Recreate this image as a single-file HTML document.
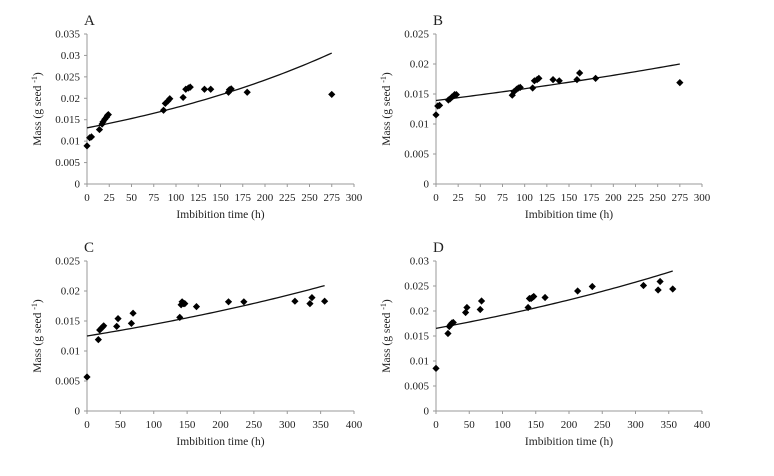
<!DOCTYPE html>
<html><head><meta charset="utf-8"><style>
html,body{margin:0;padding:0;background:#fff;}
svg{display:block;}
svg text, svg tspan{font-family:"Liberation Serif","Times New Roman",serif;}
</style></head><body>
<svg id="chart" width="774" height="476" viewBox="0 0 774 476" xmlns="http://www.w3.org/2000/svg"></svg>
<script>
// Panel A
const tA = [0,3,5,14,17,18,20,22,23,24,86,88,91,93,108,111,114,116,132,139,159,160,162,180,275];
const mA = [0.0089,0.0108,0.011,0.0127,0.014,0.0145,0.0151,0.0156,0.016,0.0162,0.0172,0.0188,0.0194,0.0199,0.0202,0.0221,0.0224,0.0226,0.0221,0.0221,0.0214,0.022,0.0222,0.0214,0.0209];
const fitA = [0.0131,0.00308,275];
const xticksA = [0,25,50,75,100,125,150,175,200,225,250,275,300];
const yticksA = [0,0.005,0.01,0.015,0.02,0.025,0.03,0.035];
// Panel B
const tB = [0,2,4,14,16,18,20,21,23,86,88,91,93,95,109,111,114,116,132,139,159,162,180,275];
const mB = [0.01153,0.013,0.0131,0.014,0.0142,0.0145,0.0147,0.0149,0.0149,0.0148,0.0154,0.0158,0.016,0.0161,0.016,0.0172,0.0174,0.0176,0.0174,0.0172,0.0174,0.0185,0.0176,0.0169];
const fitB = [0.01392,0.001318,275];
const xticksB = [0,25,50,75,100,125,150,175,200,225,250,275,300];
const yticksB = [0,0.005,0.01,0.015,0.02,0.025];
// Panel C
const tC = [0,17,19,21.5,23.5,25,44.5,46.5,66.5,69,139,141,142.5,144.5,146.5,164,212,235,311.5,334,337,356];
const mC = [0.00567,0.0119,0.0135,0.0138,0.014,0.0142,0.0141,0.0154,0.0146,0.0163,0.0156,0.0177,0.0182,0.0179,0.0179,0.0174,0.0182,0.0182,0.0183,0.0179,0.0189,0.0183];
const fitC = [0.0125,0.001444,356];
const xticksC = [0,50,100,150,200,250,300,350,400];
const yticksC = [0,0.005,0.01,0.015,0.02,0.025];
// Panel D
const tD = [0,18,20,22,24,26,44.5,46.5,66.5,68.5,138.5,140.5,143,145,147,164,213,235,312,334,337,356];
const mD = [0.00853,0.0155,0.0169,0.0173,0.0176,0.0177,0.0197,0.0207,0.0203,0.022,0.0207,0.0225,0.0225,0.0227,0.0229,0.0227,0.024,0.0249,0.0251,0.0242,0.0259,0.0244];
const fitD = [0.01653,0.00148,356];
const xticksD = [0,50,100,150,200,250,300,350,400];
const yticksD = [0,0.005,0.01,0.015,0.02,0.025,0.03];

const NS = "http://www.w3.org/2000/svg";
const FF = "Liberation Serif, Times New Roman, serif";
const svg = document.getElementById('chart');
function mk(tag, attrs, parent){const e=document.createElementNS(NS,tag);for(const k in attrs)e.setAttribute(k,attrs[k]);if(tag==='text')e.setAttribute('font-family',FF);(parent||svg).appendChild(e);return e;}
function fmt(v){return v===0?"0":String(+v.toFixed(3));}

function panel(id, label, ox, oy0, oy1, xw, ts, ms, fit, xticks, yticks){
  const g = mk('g',{});
  
  
  const xmax = xticks[xticks.length-1], ymax = yticks[yticks.length-1];
  const X = v => ox + v/xmax*xw;
  const Y = v => oy0 - v/ymax*(oy0-oy1);
  const lab = mk('text',{x:ox-3,y:oy1-9,'font-size':15,fill:'#222'},g); lab.textContent=label;
  
  
  const ya = mk('line',{x1:ox,y1:oy0,x2:ox,y2:oy1,stroke:'#999','stroke-width':1},g);
  
  
  const xa = mk('line',{x1:ox,y1:oy0,x2:ox+xw,y2:oy0,stroke:'#999','stroke-width':1},g);
  
  
  yticks.forEach(v=>{
    mk('line',{x1:ox-3,y1:Y(v),x2:ox,y2:Y(v),stroke:'#999'},g);
    const t = mk('text',{x:ox-7,y:Y(v)+3.5,'font-size':11,'text-anchor':'end',fill:'#222'},g); t.textContent=fmt(v);
    
    
  });
  xticks.forEach(v=>{
    mk('line',{x1:X(v),y1:oy0,x2:X(v),y2:oy0+3,stroke:'#999'},g);
    const t = mk('text',{x:X(v),y:oy0+17,'font-size':11,'text-anchor':'middle',fill:'#222'},g); t.textContent=String(v);
    
    
  });
  const xt = mk('text',{x:ox+xw/2,y:oy0+34,'font-size':11.5,'text-anchor':'middle',fill:'#222'},g); xt.textContent='Imbibition time (h)';
  
  
  const cy=(oy0+oy1)/2, cx=ox-46;
  const yt = mk('text',{x:cx,y:cy,'font-size':11.5,'text-anchor':'middle',fill:'#222',transform:'rotate(-90 '+cx+' '+cy+')'},g);
  yt.innerHTML='Mass (g seed <tspan font-size="8" dy="-4">-1</tspan><tspan dy="4">)</tspan>';
  
  
  let d='';
  for(let i=0;i<=60;i++){const t=fit[2]*i/60;d+=(i?'L':'M')+X(t).toFixed(2)+' '+Y(fit[0]*Math.exp(fit[1]*t)).toFixed(2);}
  const fl = mk('path',{d:d,fill:'none',stroke:'#111','stroke-width':1.3},g);
  
  
  ts.forEach((t,i)=>{
    const x=X(t),y=Y(ms[i]),r=3.6;
    const p = mk('path',{d:`M${x} ${y-r}L${x+r} ${y}L${x} ${y+r}L${x-r} ${y}Z`,fill:'#000'},g);
    
    
  });
}
panel('a','A',87,184,34,267,tA,mA,fitA,xticksA,yticksA);
panel('b','B',436,184,34,266,tB,mB,fitB,xticksB,yticksB);
panel('c','C',87,411,261,267,tC,mC,fitC,xticksC,yticksC);
panel('d','D',436,411,261,266,tD,mD,fitD,xticksD,yticksD);
</script>
</body></html>
